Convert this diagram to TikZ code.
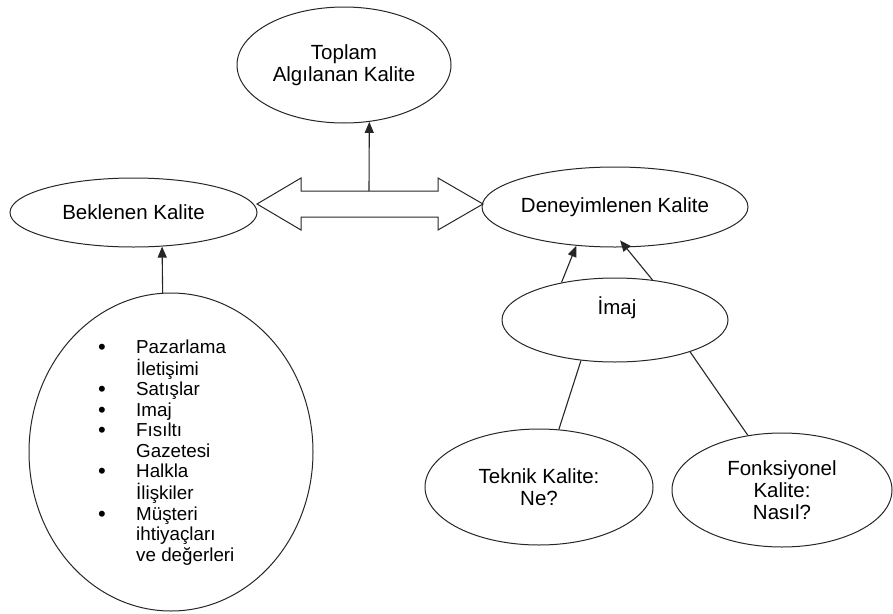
\documentclass[tikz,border=0pt]{standalone}
\usepackage{fontspec}
\setmainfont{Liberation Sans}
\usetikzlibrary{shapes.geometric,arrows.meta}
\newcommand{\listdot}{\makebox[38pt][l]{\smash{\fontsize{22}{20.4}\selectfont\raisebox{-1pt}{•}}}}
\begin{document}
\begin{tikzpicture}[x=1pt,y=-1pt,
  oval/.style={ellipse,draw=black!85,line width=1pt,inner sep=0pt,align=center,
               font=\fontsize{20.5}{22}\selectfont},
  link/.style={draw=black!85,line width=1.1pt},
  arr/.style={link,-{Triangle[length=11pt,width=9pt]}},
  txt/.style={inner sep=0pt,font=\fontsize{20.5}{22}\selectfont}]
\useasboundingbox (0,0) rectangle (893,613);

% quality ellipses
\node[oval,minimum width=214pt,minimum height=116pt] (top) at (344,65) {Toplam\\Algılanan Kalite};
\node[oval,minimum width=247pt,minimum height=69pt] (bek) at (133.5,212.5) {Beklenen Kalite};
\node[oval,minimum width=266pt,minimum height=80pt] (den) at (615,207) {Deneyimlenen Kalite};
\node[oval,minimum width=226pt,minimum height=84pt] (imaj) at (615,320) {};
\node[txt] (imajt) at (617,308) {İmaj};
\node[oval,minimum width=228pt,minimum height=116pt] (tek) at (539,487) {Teknik Kalite:\\Ne?};
\node[oval,minimum width=220pt,minimum height=114pt] (fon) at (782,490) {Fonksiyonel\\Kalite:\\Nasıl?};
\node[oval,minimum width=284pt,minimum height=318pt] (big) at (171,452) {};

% list of expectation sources
\node[inner sep=0pt,anchor=base west,font=\fontsize{18.8}{20.4}\selectfont] (list) at (98,353)
 {\begin{tabular}[t]{@{}l@{}l@{}}
  \listdot & Pazarlama\\
   & İletişimi\\
  \listdot & Satışlar\\
  \listdot & Imaj\\
  \listdot & Fısıltı\\
   & Gazetesi\\
  \listdot & Halkla\\
   & İlişkiler\\
  \listdot & Müşteri\\
   & ihtiyaçları\\
   & ve değerleri
 \end{tabular}};

% hollow double arrow between expected and experienced quality
\draw[link,line width=1pt] (257,204) -- (301,178) -- (301,191) -- (438,191) -- (438,178)
  -- (483,204) -- (438,230) -- (438,217) -- (301,217) -- (301,230) -- cycle;
\coordinate (vbase) at (369,191);
\draw[arr] (vbase) -- (top.-66);

% connectors
\draw[arr] (big.93) -- (bek.-50);
\draw[arr] (imaj.145) -- (den.-135);
\draw[arr,shorten >=-9pt] (imaj.47) -- (den.-75);
\draw[link] (imaj.-130) -- (tek.71);
\draw[link] (imaj.-23) -- (fon.122);
\end{tikzpicture}
\end{document}
